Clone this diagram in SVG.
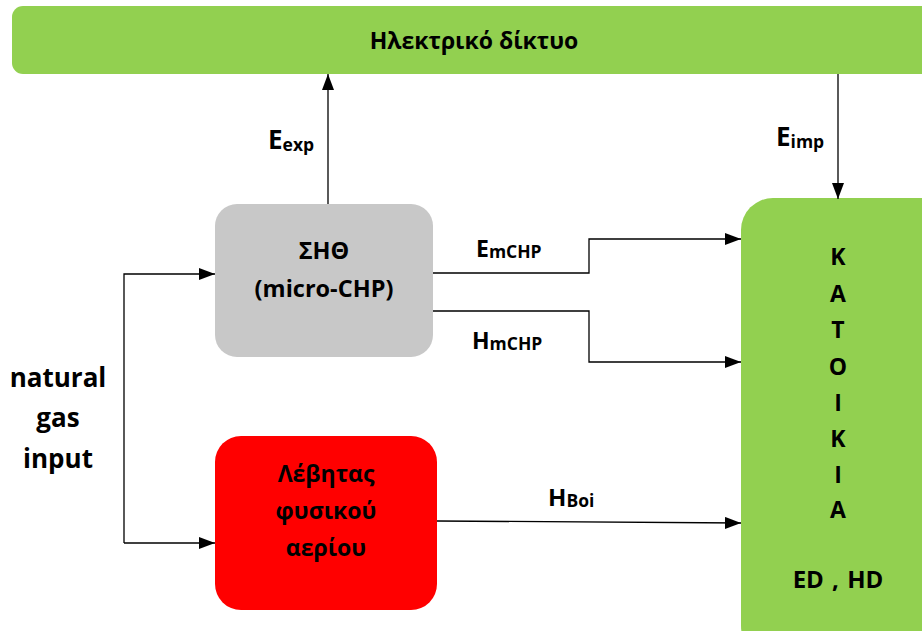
<svg xmlns="http://www.w3.org/2000/svg" width="922" height="631" viewBox="0 0 922 631">
  <style>
    text { font-family: "Open Sans", "Noto Sans", "DejaVu Sans", sans-serif; font-weight: bold; fill: #000; }
    .c { text-anchor: middle; }
    .wire { fill: none; stroke: #000; stroke-width: 1.3; }
    .sub { font-size: 17.5px; }
    .house { font-size: 23px; }
  </style>
  <defs>
    <marker id="arrow" viewBox="0 0 16 12" refX="16" refY="6" markerWidth="16" markerHeight="12" markerUnits="userSpaceOnUse" orient="auto">
      <path d="M0,0 L16,6 L0,12 Z" fill="#000"/>
    </marker>
  </defs>

  <!-- electricity grid bar -->
  <g id="grid">
    <rect x="12" y="6" width="930" height="68" rx="11" fill="#92D050"/>
    <text class="c" x="474" y="49" font-size="23">Ηλεκτρικό δίκτυο</text>
  </g>

  <!-- micro combined heat and power unit -->
  <g id="chp">
    <rect x="215" y="204" width="218" height="153" rx="22" fill="#C8C8C8"/>
    <text class="c" x="324" y="259" font-size="23.5">ΣΗΘ</text>
    <text class="c" x="324" y="297" font-size="23.5">(micro-CHP)</text>
  </g>

  <!-- natural gas boiler -->
  <g id="boiler">
    <rect x="215" y="436" width="222" height="174" rx="26" fill="#FF0000"/>
    <text class="c" x="326" y="482" font-size="23">Λέβητας</text>
    <text class="c" x="326" y="519" font-size="23">φυσικού</text>
    <text class="c" x="326" y="556" font-size="23">αερίου</text>
  </g>

  <!-- household -->
  <g id="house">
    <rect x="741" y="198" width="220" height="460" rx="32" fill="#92D050"/>
    <text class="c house" x="838" y="265">K</text>
    <text class="c house" x="838" y="302">A</text>
    <text class="c house" x="838" y="338">T</text>
    <text class="c house" x="838" y="375">O</text>
    <text class="c house" x="838" y="411">I</text>
    <text class="c house" x="838" y="447">K</text>
    <text class="c house" x="838" y="483">I</text>
    <text class="c house" x="838" y="518">A</text>
    <text class="c" x="838" y="588" font-size="24" word-spacing="2">ED , HD</text>
  </g>

  <!-- fuel input label -->
  <g id="gas-input">
    <text class="c" x="58" y="387" font-size="26">natural</text>
    <text class="c" x="58" y="427" font-size="26">gas</text>
    <text class="c" x="58" y="468" font-size="26">input</text>
  </g>

  <!-- flows -->
  <g id="connectors">
    <path class="wire" d="M328,204 V74" marker-end="url(#arrow)"/>
    <path class="wire" d="M838,74 V199" marker-end="url(#arrow)"/>
    <path class="wire" d="M433,273 H589 V239 H741" marker-end="url(#arrow)"/>
    <path class="wire" d="M433,311 H589 V362 H741" marker-end="url(#arrow)"/>
    <path class="wire" d="M437,521 L741,523" marker-end="url(#arrow)"/>
    <path class="wire" d="M124,543 V274 H215" marker-end="url(#arrow)"/>
    <path class="wire" d="M124,543 H215" marker-end="url(#arrow)"/>
  </g>

  <!-- flow labels -->
  <g id="labels">
    <text x="268" y="149" font-size="26">E<tspan class="sub" dy="2">exp</tspan></text>
    <text x="776" y="146" font-size="26">E<tspan class="sub" dy="2">imp</tspan></text>
    <text x="476" y="257" font-size="23">E<tspan class="sub" dy="1">mCHP</tspan></text>
    <text x="472" y="349" font-size="23">H<tspan class="sub" dy="1">mCHP</tspan></text>
    <text x="548" y="506" font-size="24">H<tspan class="sub" dy="1">Boi</tspan></text>
  </g>
</svg>
